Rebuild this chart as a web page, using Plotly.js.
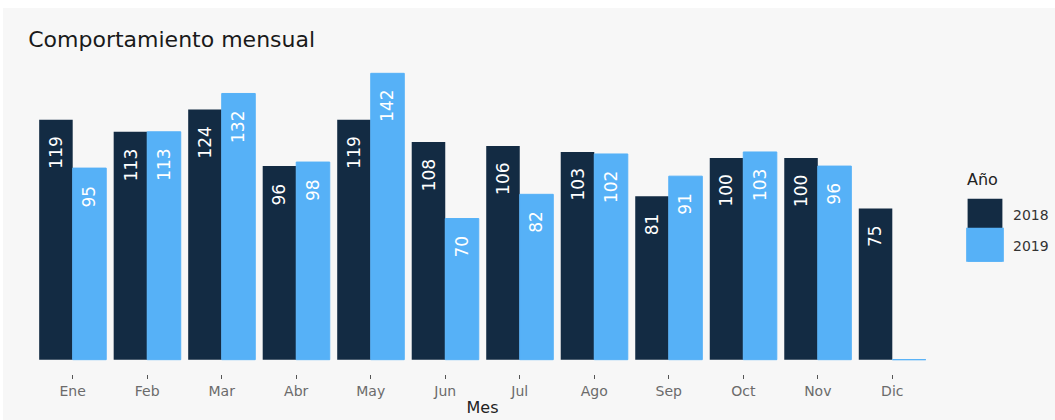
<!DOCTYPE html>
<html><head><meta charset="utf-8">
<script src="https://cdn.plot.ly/plotly-3.0.1.min.js"></script>
<style>
body{margin:0;background:#fff}
#wrap{padding:8px 0 0 3px;width:1052px;height:412px}
#c{width:1052px;height:412px}
</style>
</head><body><div id="wrap"><div id="c"></div></div>
<script>
const meses = ["Ene","Feb","Mar","Abr","May","Jun","Jul","Ago","Sep","Oct","Nov","Dic"];
const v2018 = [119,113,124,96,119,108,106,103,81,100,100,75];
const v2019 = [95,113,132,98,142,70,82,102,91,103,96,0];
const colores = {"2018":"#132B43","2019":"#56B1F7"};
const FONT = "DejaVu Sans, Liberation Sans, sans-serif";

function serie(nombre, vals){
  return {
    type:"bar", name:nombre, x:meses, y:vals, legendgroup:nombre,
    marker:{color:colores[nombre], line:{color:colores[nombre], width: nombre==="2019"?1:0}},
    hoverinfo:"skip"
  };
}

// value labels, rotated, just under each bar top (dodge offset of half a bar)
const anotaciones = [];
[[v2018,-0.225],[v2019,0.225]].forEach(([vals,dx]) => {
  vals.forEach((v,i) => {
    if (v === 0) return;
    anotaciones.push({x:i+dx, y:v, xref:"x", yref:"y", text:String(v), textangle:-90,
      showarrow:false, xanchor:"center", yanchor:"top", yshift:-15,
      font:{family:FONT, size:17, color:"#ffffff"}});
  });
});
// legend title
anotaciones.push({text:"Año", xref:"paper", yref:"paper", x:1.031, y:0.616, xanchor:"left", yanchor:"middle",
  showarrow:false, font:{family:FONT, size:16, color:"#222"}});

const layout = {
  width:1052, height:412,
  paper_bgcolor:"#f7f7f7", plot_bgcolor:"#f7f7f7",
  margin:{l:25, r:118, t:51, b:46, autoexpand:false},
  barmode:"group", bargap:0.1, bargroupgap:0,
  title:{text:"Comportamiento mensual", x:0.024, xanchor:"left", y:0.925, yanchor:"middle",
         font:{family:FONT, size:22, color:"#1a1a1a"}},
  xaxis:{type:"category", range:[-0.6,11.6], showgrid:false, zeroline:false, showline:false,
         ticks:"outside", ticklen:4, tickcolor:"#555", tickwidth:1,
         tickfont:{family:FONT, size:14, color:"#6b6b6b"},
         title:{text:"Mes", standoff:4, font:{family:FONT, size:16, color:"#222"}}},
  yaxis:{range:[-7.1,149.1], showgrid:false, zeroline:false, showticklabels:false, ticks:""},
  annotations:anotaciones,
  showlegend:true,
  legend:{x:1.022, xanchor:"left", y:0.556, yanchor:"top", bgcolor:"rgba(0,0,0,0)",
          traceorder:"grouped", tracegroupgap:10,
          font:{family:FONT, size:14, color:"#333"},
          itemwidth:46},
  font:{family:FONT}
};

Plotly.newPlot("c", [serie("2018", v2018), serie("2019", v2019)], layout, {displayModeBar:false, staticPlot:true})
  .then(gd => {
    gd.querySelectorAll(".legendpoints path").forEach(p => {
      const t = p.getAttribute("transform") || "";
      p.setAttribute("transform", t + " scale(2.9,2.75)");
    });
  });
</script></body></html>
